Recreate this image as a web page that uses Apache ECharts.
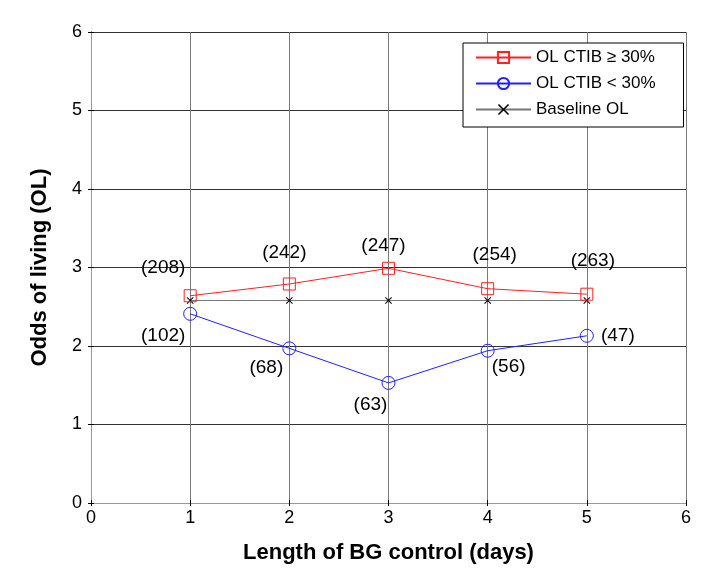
<!DOCTYPE html>
<html>
<head>
<meta charset="utf-8">
<script src="https://cdn.jsdelivr.net/npm/echarts@6/dist/echarts.min.js"></script>
<style>html,body{margin:0;padding:0;background:#fff;}#c{width:724px;height:587px;}</style>
</head>
<body>
<div id="c"></div>
<script>
const days = [1, 2, 3, 4, 5];
const olHigh = [2.64, 2.79, 2.99, 2.73, 2.66];
const olLow = [2.41, 1.97, 1.53, 1.94, 2.13];
const baselineOL = [2.58, 2.58, 2.58, 2.58, 2.58];
const countsHigh = ['(208)', '(242)', '(247)', '(254)', '(263)'];
const countsLow = ['(102)', '(68)', '(63)', '(56)', '(47)'];
const xTicks = ['0', '1', '2', '3', '4', '5', '6'];
const yTicks = ['0', '1', '2', '3', '4', '5', '6'];

// label offsets (style only)
const offHigh = [[-27, -28], [-5, -31], [-5, -23], [7, -34], [6, -33]];
const offLow = [[-27, 22], [-23, 19], [-18, 22], [21, 16], [31, 0]];

const FONT = 'Liberation Sans, Arial, Helvetica, sans-serif';
const xPath = 'path://M0,1L1,0L5,4L9,0L10,1L6,5L10,9L9,10L5,6L1,10L0,9L4,5Z';

function mk(vals, labels, offs) {
  return days.map((d, i) => ({
    value: [d, vals[i]],
    label: labels ? {
      show: true, formatter: labels[i], position: 'inside',
      offset: offs[i], fontSize: 19, color: '#000', fontFamily: FONT
    } : undefined
  }));
}

const chart = echarts.init(document.getElementById('c'), null, {renderer: 'canvas'});
chart.setOption({
  animation: false,
  backgroundColor: '#fff',
  grid: {left: 91, right: 38, top: 32, bottom: 84},
  legend: {
    orient: 'vertical', left: 463, top: 43,
    backgroundColor: '#fff', borderColor: '#000', borderWidth: 1,
    padding: [6, 28, 9, 12],
    itemWidth: 55, itemHeight: 14, itemGap: 9,
    textStyle: {fontSize: 17, color: '#000', fontFamily: FONT},
    data: ['OL CTIB \u2265 30%', 'OL CTIB < 30%', 'Baseline OL']
  },
  xAxis: [{
    type: 'value', min: 0, max: 6, interval: 1,
    name: 'Length of BG control (days)', nameLocation: 'middle', nameGap: 39,
    nameTextStyle: {fontSize: 22, fontWeight: 'bold', color: '#000', fontFamily: FONT},
    axisLine: {show: true, onZero: false, lineStyle: {color: '#000', width: 1}},
    axisTick: {show: true, inside: true, length: 3, lineStyle: {color: '#000'}},
    axisLabel: {fontSize: 18, color: '#000', fontFamily: FONT, margin: 6,
      formatter: v => xTicks[v]},
    splitLine: {show: true, lineStyle: {color: '#7a7a7a', width: 1}}
  }, {
    type: 'value', position: 'top', min: 0, max: 6, interval: 1,
    axisLine: {show: true, lineStyle: {color: '#999', width: 1}},
    axisTick: {show: true, inside: true, length: 3, lineStyle: {color: '#000'}},
    axisLabel: {show: false}, splitLine: {show: false}
  }],
  yAxis: [{
    type: 'value', min: 0, max: 6, interval: 1,
    name: 'Odds of living (OL)', nameLocation: 'middle', nameGap: 40,
    nameTextStyle: {fontSize: 22, fontWeight: 'bold', color: '#000', fontFamily: FONT},
    axisLine: {show: true, onZero: false, lineStyle: {color: '#000', width: 1}},
    axisTick: {show: true, inside: true, length: 3, lineStyle: {color: '#000'}},
    axisLabel: {fontSize: 18, color: '#000', fontFamily: FONT, margin: 9,
      formatter: v => yTicks[v]},
    splitLine: {show: true, lineStyle: {color: '#333', width: 1}}
  }, {
    type: 'value', position: 'right', min: 0, max: 6, interval: 1,
    axisLine: {show: true, lineStyle: {color: '#999', width: 1}},
    axisTick: {show: true, inside: true, length: 3, lineStyle: {color: '#000'}},
    axisLabel: {show: false}, splitLine: {show: false}
  }],
  series: [{
    name: 'OL CTIB \u2265 30%', type: 'line', data: mk(olHigh, countsHigh, offHigh),
    symbol: 'rect', symbolSize: 12, showAllSymbol: true,
    lineStyle: {color: '#ff2020', width: 1},
    itemStyle: {color: 'rgba(255,255,255,0)', borderColor: '#ff2020', borderWidth: 1},
    emphasis: {disabled: true}, z: 3
  }, {
    name: 'OL CTIB < 30%', type: 'line', data: mk(olLow, countsLow, offLow),
    symbol: 'circle', symbolSize: 13, showAllSymbol: true,
    lineStyle: {color: '#2020ff', width: 1},
    itemStyle: {color: 'rgba(255,255,255,0)', borderColor: '#2020ff', borderWidth: 1},
    emphasis: {disabled: true}, z: 3
  }, {
    name: 'Baseline OL', type: 'line', data: mk(baselineOL, null, null),
    symbol: xPath, symbolSize: 7, showAllSymbol: true,
    lineStyle: {color: '#777', width: 1},
    itemStyle: {color: '#000'},
    emphasis: {disabled: true}, z: 2
  }]
});
</script>
</body>
</html>
